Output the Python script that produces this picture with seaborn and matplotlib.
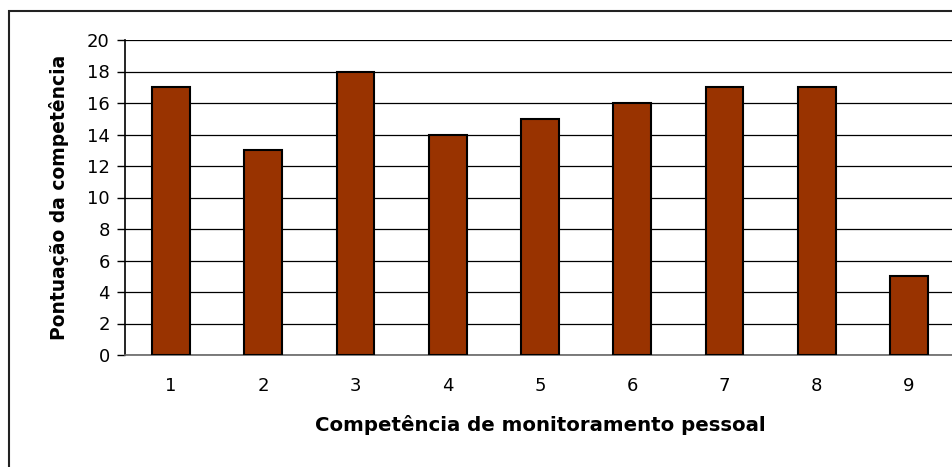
import matplotlib
matplotlib.use("Agg")
import matplotlib.pyplot as plt
import matplotlib.patches as mpatches
import seaborn as sns
import pandas as pd

categories = ["1", "2", "3", "4", "5", "6", "7", "8", "9"]
scores = [17, 13, 18, 14, 15, 16, 17, 17, 5]
y_ticks = [0, 2, 4, 6, 8, 10, 12, 14, 16, 18, 20]

sns.set_style("white")
plt.rcParams["font.family"] = ["DejaVu Sans"]
plt.rcParams["text.color"] = "black"
plt.rcParams["axes.labelcolor"] = "black"
plt.rcParams["xtick.color"] = "black"
plt.rcParams["ytick.color"] = "black"

W, H = 953, 467
fig = plt.figure(figsize=(W / 100, H / 100), dpi=100)
fig.patch.set_facecolor("white")

# chart frame around the whole figure
frame = mpatches.Rectangle((9 / W, -0.05), 1.2, (H - 11) / H + 0.05,
                           transform=fig.transFigure, fill=False,
                           edgecolor="#222222", linewidth=1.5, clip_on=False)
fig.add_artist(frame)

left, right, top, bottom = 125, 955, 40, 355
ax = fig.add_axes([left / W, (H - bottom) / H, (right - left) / W, (bottom - top) / H])

df = pd.DataFrame({"cat": categories, "score": scores})
sns.barplot(data=df, x="cat", y="score", ax=ax, color="#993300",
            saturation=1, width=0.41, edgecolor="black", linewidth=1.5, zorder=3)

ax.set_ylim(0, 20)
ax.set_xlim(-0.5, len(categories) - 0.5)
ax.set_yticks(y_ticks)
ax.set_yticklabels([str(v) for v in y_ticks], fontsize=13, color="black")
ax.yaxis.grid(True, color="black", linewidth=0.9, zorder=0)
ax.set_axisbelow(True)

# labels at bar centres, tick marks at category boundaries
ax.set_xticks(range(len(categories)))
ax.set_xticklabels(categories, fontsize=13, color="black")
ax.set_xticks([i - 0.5 for i in range(len(categories) + 1)], minor=True)
ax.tick_params(axis="x", which="major", length=0, pad=16)
ax.tick_params(axis="x", which="minor", length=5, width=1, color="#666666", direction="out")
ax.tick_params(axis="y", which="major", length=6, width=1, color="black", direction="out", pad=5, left=True)

for side in ("top", "right"):
    ax.spines[side].set_visible(False)
ax.spines["left"].set_color("black")
ax.spines["left"].set_linewidth(1.2)
ax.spines["bottom"].set_color("#666666")
ax.spines["bottom"].set_linewidth(1.2)

ax.set_xlabel("Competência de monitoramento pessoal", fontsize=14.2, fontweight="bold", color="black")
ax.set_ylabel("Pontuação da competência", fontsize=13.5, fontweight="bold", color="black")
ax.xaxis.set_label_coords(0.5, -(415 - bottom) / (bottom - top))
ax.yaxis.set_label_coords(-(125 - 69) / (right - left), 0.5)

fig.savefig("out.png", dpi=100)
